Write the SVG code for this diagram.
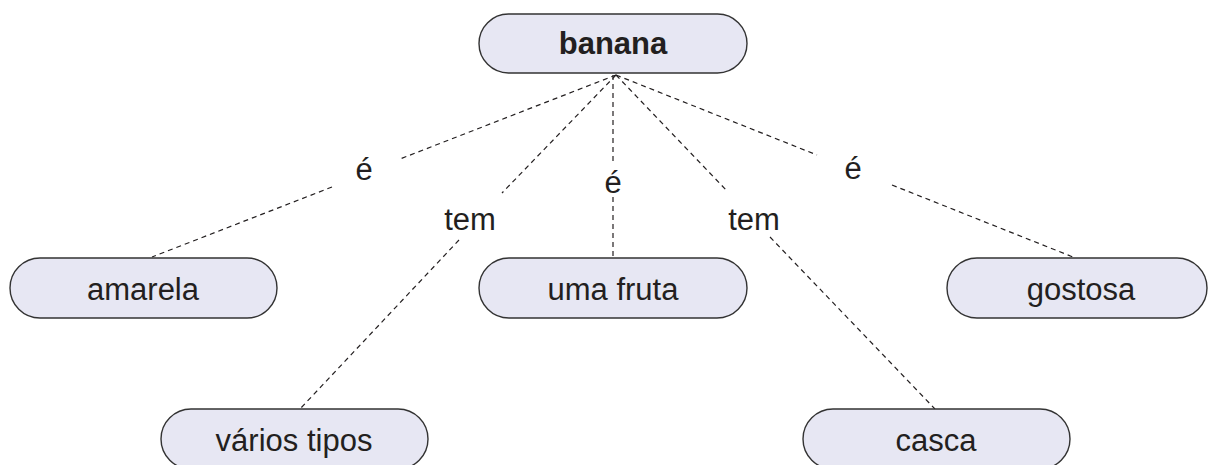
<svg xmlns="http://www.w3.org/2000/svg" width="1208" height="465" viewBox="0 0 1208 465">
<style>
.box{fill:#e7e7f3;stroke:#333;stroke-width:1.4}
.t{font-family:"Liberation Sans",Arial,Helvetica,sans-serif;font-size:31px;fill:#231f20;text-anchor:middle}
.b{font-weight:bold}
.c{fill:none;stroke:#231f20;stroke-width:1.2;stroke-dasharray:5 4}
</style>
<rect width="1208" height="465" fill="#fff"/>
<g id="connectors">
<path class="c" d="M616,75 L400,159 M332,187 L152,257"/>
<path class="c" d="M616,75 L502,193 M459,240 L300,409"/>
<path class="c" d="M613,75 L613,164 M613,197 L613,258"/>
<path class="c" d="M616,75 L728,192 M770,237 L935,409"/>
<path class="c" d="M616,75 L817,155 M892,185 L1073,257"/>
<text class="t" x="364" y="180">é</text>
<text class="t" x="470" y="230">tem</text>
<text class="t" x="613" y="193">é</text>
<text class="t" x="754" y="230">tem</text>
<text class="t" x="853" y="179">é</text>
</g>
<g id="banana"><rect class="box" x="479" y="14" width="268" height="59" rx="29.5"/><text class="t b" x="613" y="54">banana</text></g>
<g id="amarela"><rect class="box" x="10" y="258" width="267" height="60" rx="30"/><text class="t" x="143" y="300">amarela</text></g>
<g id="uma-fruta"><rect class="box" x="479" y="258" width="268" height="60" rx="30"/><text class="t" x="613" y="300">uma fruta</text></g>
<g id="gostosa"><rect class="box" x="947" y="258" width="260" height="60" rx="30"/><text class="t" x="1081" y="300">gostosa</text></g>
<g id="varios-tipos"><rect class="box" x="161" y="409" width="267" height="60" rx="30"/><text class="t" x="294" y="451">vários tipos</text></g>
<g id="casca"><rect class="box" x="803" y="409" width="267" height="60" rx="30"/><text class="t" x="936" y="451">casca</text></g>
</svg>
